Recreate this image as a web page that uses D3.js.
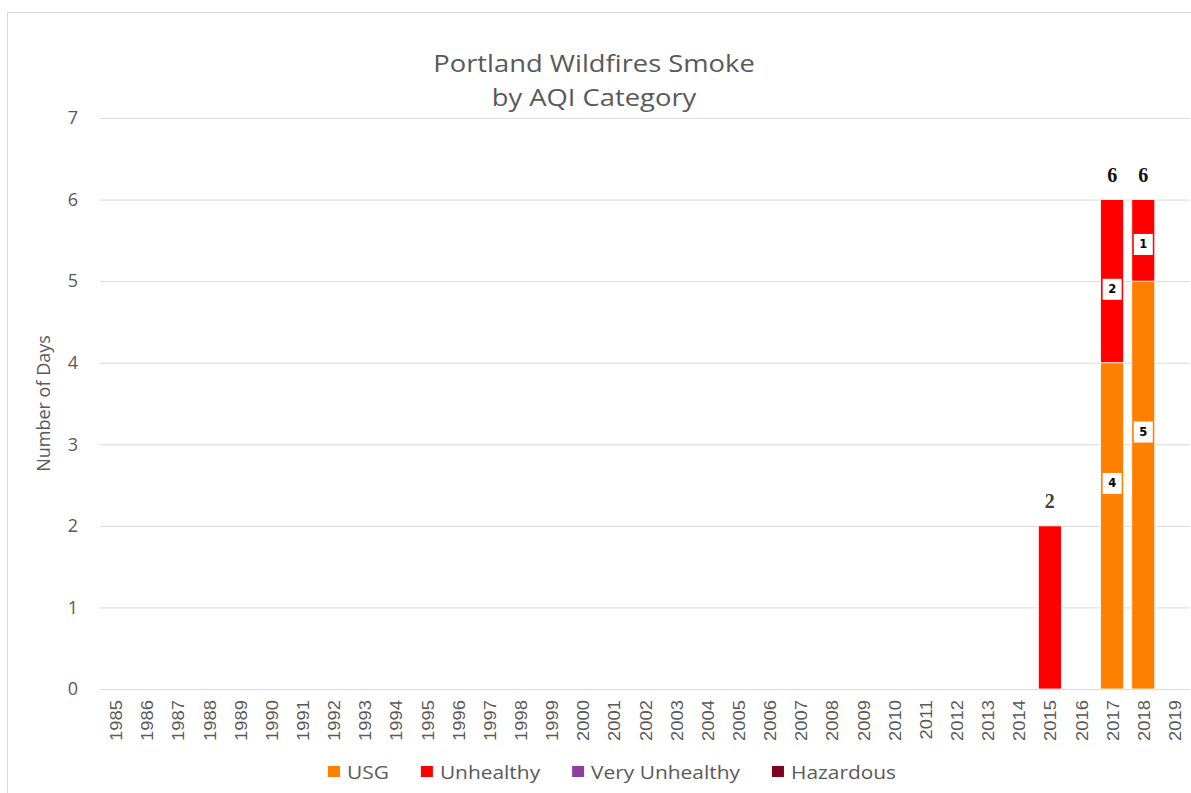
<!DOCTYPE html>
<html>
<head>
<meta charset="utf-8">
<script src="https://cdnjs.cloudflare.com/ajax/libs/d3/7.8.5/d3.min.js"></script>
<style>
	body { margin: 0; background: #fff; }
	text { fill: #595959; }
	.title { font-family: "Open Sans", sans-serif; font-size: 24px; }
	.yTick { font-family: "Open Sans", sans-serif; font-size: 18px; }
	.xTick { font-family: "Liberation Sans", Arial, sans-serif; font-size: 20px; }
	.axisTitle { font-family: "Open Sans", sans-serif; font-size: 18px; }
	.legend { font-family: "Open Sans", sans-serif; font-size: 19px; }
	.total { font-family: "Liberation Serif", "Times New Roman", serif; font-size: 20px; font-weight: bold; }
	.inner { font-family: "DejaVu Sans", Verdana, sans-serif; font-size: 11.5px; font-weight: bold; fill: #000; }
</style>
</head>
<body>
<div id="chart"></div>
<script>
var years = ["1985","1986","1987","1988","1989","1990","1991","1992","1993","1994",
	"1995","1996","1997","1998","1999","2000","2001","2002","2003","2004",
	"2005","2006","2007","2008","2009","2010","2011","2012","2013","2014",
	"2015","2016","2017","2018","2019"];
var usg =           [0,0,0,0,0,0,0,0,0,0, 0,0,0,0,0,0,0,0,0,0, 0,0,0,0,0,0,0,0,0,0, 0,0,4,5,0];
var unhealthy =     [0,0,0,0,0,0,0,0,0,0, 0,0,0,0,0,0,0,0,0,0, 0,0,0,0,0,0,0,0,0,0, 2,0,2,1,0];
var veryUnhealthy = [0,0,0,0,0,0,0,0,0,0, 0,0,0,0,0,0,0,0,0,0, 0,0,0,0,0,0,0,0,0,0, 0,0,0,0,0];
var hazardous =     [0,0,0,0,0,0,0,0,0,0, 0,0,0,0,0,0,0,0,0,0, 0,0,0,0,0,0,0,0,0,0, 0,0,0,0,0];
var seriesNames = ["USG", "Unhealthy", "Very Unhealthy", "Hazardous"];
var yTicks = [0, 1, 2, 3, 4, 5, 6, 7];
// years whose segments carry a boxed value label
var innerLabelYears = ["2017", "2018"];

var colors = ["#ff7f00", "#ff0000", "#8b3fa0", "#800020"];
// where the boxed label sits inside a segment (fraction from its base)
var labelFrac = [0.63, 0.45, 0.5, 0.5];
// horizontal text stretch seen in the reference
var stretch = 1.14;

var W = 1191, H = 793;
var margin = {left: 100, right: 1, top: 118, bottom: 104};
var width = W - margin.left - margin.right,
	height = H - margin.top - margin.bottom;

var table = years.map(function(y, i) {
	return {year: y, USG: usg[i], Unhealthy: unhealthy[i],
		"Very Unhealthy": veryUnhealthy[i], Hazardous: hazardous[i]};
});
var stacked = d3.stack().keys(seriesNames)(table);
function total(d) { return d.USG + d.Unhealthy + d["Very Unhealthy"] + d.Hazardous; }

var xScale = d3.scaleBand()
	.domain(years)
	.range([0, width])
	.paddingInner(0.26)
	.paddingOuter(0.13)
;
var yScale = d3.scaleLinear()
	.domain([0, 7])
	.range([height, 0])
;

var svg = d3.select("#chart")
	.append("svg")
	.attr("width", W)
	.attr("height", H)
;

// chart frame
svg.append("rect")
	.attr("x", 7.5).attr("y", 12.5)
	.attr("width", W).attr("height", H)
	.attr("fill", "none")
	.attr("stroke", "#d9d9d9")
;

var plot = svg.append("g")
	.attr("transform", "translate(" + margin.left + "," + margin.top + ")")
;

// gridlines + y labels
var yAxis = plot.append("g")
	.call(d3.axisLeft(yScale).tickValues(yTicks).tickSize(-width).tickPadding(22).tickFormat(d3.format("d")))
;
yAxis.select(".domain").remove();
yAxis.selectAll(".tick line").attr("stroke", "#d9d9d9");
yAxis.selectAll(".tick text").attr("class", "yTick").attr("fill", null);

/*
	Stacked bars
*/
var layers = plot.selectAll("g.layer")
	.data(stacked)
	.enter()
	.append("g")
	.attr("class", "layer")
	.attr("fill", function(d, i) { return colors[i]; })
;
layers.selectAll("rect")
	.data(function(d) { return d; })
	.enter()
	.filter(function(d) { return d[1] > d[0]; })
	.append("rect")
	.attr("x", function(d) { return xScale(d.data.year); })
	.attr("width", xScale.bandwidth())
	.attr("y", function(d) { return yScale(d[1]); })
	.attr("height", function(d) { return yScale(d[0]) - yScale(d[1]); })
	.attr("stroke", "#fff")
	.attr("stroke-width", 0.8)
;

/*
	Boxed labels inside segments
*/
stacked.forEach(function(layer, li) {
	layer.forEach(function(d) {
		var v = d[1] - d[0];
		if (v <= 0 || innerLabelYears.indexOf(d.data.year) < 0) return;
		var cx = xScale(d.data.year) + xScale.bandwidth() / 2;
		var cy = yScale(d[0] + v * labelFrac[li]);
		plot.append("rect")
			.attr("x", cx - 9.5).attr("y", cy - 10.5)
			.attr("width", 19).attr("height", 21)
			.attr("fill", "#fff")
		;
		plot.append("text")
			.attr("class", "inner")
			.attr("x", cx).attr("y", cy + 4)
			.attr("text-anchor", "middle")
			.text(v)
		;
	});
});

/*
	Totals on top
*/
plot.selectAll("text.total")
	.data(table.filter(function(d) { return total(d) > 0; }))
	.enter()
	.append("text")
	.attr("class", "total")
	.attr("text-anchor", "middle")
	.attr("x", function(d) { return xScale(d.year) + xScale.bandwidth() / 2; })
	.attr("y", function(d) { return yScale(total(d)) - 18; })
	.style("fill", function(d) { return d.year === "2015" ? "#404040" : "#111"; })
	.text(total)
;

/*
	Year labels
*/
plot.append("g")
	.selectAll("text")
	.data(years)
	.enter()
	.append("text")
	.attr("class", "xTick")
	.attr("text-anchor", "end")
	.attr("transform", function(d) {
		return "translate(" + (xScale(d) + xScale.bandwidth() / 2 + 6.5) + "," + (height + 11) + ") rotate(-90) scale(0.92,0.78)";
	})
	.text(function(d) { return d; })
;

// axis title
svg.append("text")
	.attr("class", "axisTitle")
	.attr("text-anchor", "middle")
	.attr("transform", "translate(50," + (margin.top + height / 2) + ") rotate(-90)")
	.text("Number of Days")
;

/*
	Title
*/
svg.append("text")
	.attr("class", "title")
	.attr("text-anchor", "middle")
	.attr("transform", "translate(594,72) scale(" + stretch + ",1)")
	.text("Portland Wildfires Smoke")
;
svg.append("text")
	.attr("class", "title")
	.attr("text-anchor", "middle")
	.attr("transform", "translate(594,106) scale(" + stretch + ",1)")
	.text("by AQI Category")
;

/*
	Legend
*/
var legend = svg.append("g").attr("transform", "translate(0,772)");
var lx = 328;
seriesNames.forEach(function(name, i) {
	legend.append("rect")
		.attr("x", lx).attr("y", -6)
		.attr("width", 12).attr("height", 11)
		.attr("fill", colors[i])
	;
	var t = legend.append("text")
		.attr("class", "legend")
		.attr("transform", "translate(" + (lx + 19) + ",7) scale(1.1,1)")
		.text(name)
	;
	lx += 19 + t.node().getComputedTextLength() * 1.1 + 32;
});
</script>
</body>
</html>
